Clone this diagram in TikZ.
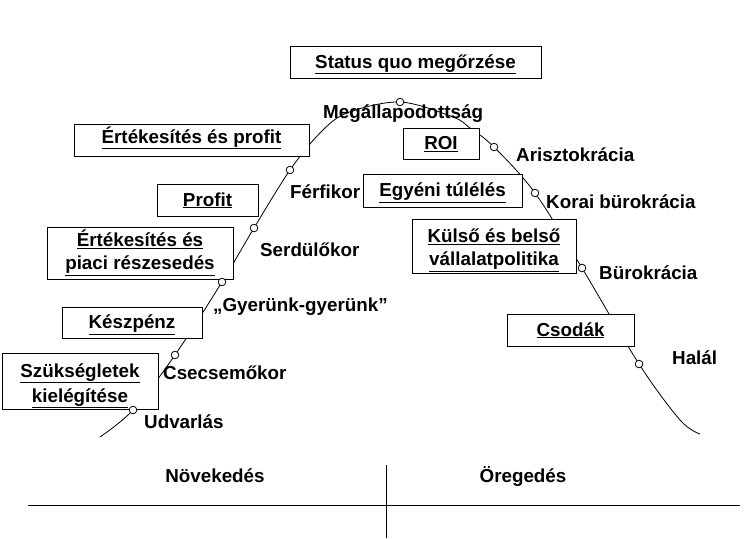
\documentclass[tikz,border=0pt]{standalone}
\usepackage{fontspec}
\setmainfont{Liberation Sans}
\tikzset{box/.style={draw,line width=1pt,fill=white,align=center,inner sep=0pt,font=\fontsize{18.8}{23}\selectfont\bfseries}}
\tikzset{onebox/.style={box,text height=13pt,text depth=1pt}}
\tikzset{stage/.style={anchor=base west,inner sep=0pt,font=\fontsize{18.8}{23}\selectfont\bfseries}}
\tikzset{phase/.style={anchor=base,inner sep=0pt,font=\fontsize{18.8}{23}\selectfont\bfseries}}

\begin{document}
\begin{tikzpicture}[x=1pt,y=-1pt]
\useasboundingbox (0,0) rectangle (749,538);
\foreach \x/\y/\name in {100/437/s,133/410/a,175/355/b,222/282/c,254/228/d,290/170/e,400/102/f,494/147/g,535/193/h,582/268/i,639/364/j,700/434/z} {
  \coordinate (\name) at (\x,\y);
}
\draw[line width=.8pt] plot[smooth,tension=.55] coordinates {(s) (a) (b) (c) (d) (e) (320,133) (347,113) (f) (453,117) (470,128) (g) (h) (i) (j) (680,420) (z)};
% boxes
\node[onebox,minimum width=251,minimum height=32] (status) at (415.5,62) {\underline{Status quo megőrzése}};
\node[onebox,text depth=7pt,minimum width=235,minimum height=32] (ertprofit) at (191.5,140) {\underline{Értékesítés és profit}};
\node[onebox,minimum width=101,minimum height=32] (profit) at (207.5,200) {\underline{Profit}};
\node[box,minimum width=186,minimum height=52] (piaci) at (140,253) {\underline{Értékesítés és}\\\underline{piaci részesedés}};
\node[onebox,minimum width=140,minimum height=31] (keszpenz) at (132,322.5) {\underline{Készpénz}};
\node[box,minimum width=156,minimum height=56] (szukseglet) at (80,381) {\rule{0pt}{23pt}\underline{Szükségletek}\\[2pt]\underline{kielégítése}};
\node[onebox,minimum width=76,minimum height=31] (roi) at (441,143.5) {\underline{ROI}};
\node[onebox,minimum width=159,minimum height=33] (egyeni) at (442.5,190.5) {\underline{Egyéni túlélés}};
\node[box,minimum width=164,minimum height=54] (kulso) at (494,246) {\rule{0pt}{22pt}\underline{Külső és belső}\\\underline{vállalatpolitika}};
\node[onebox,minimum width=127,minimum height=32] (csodak) at (570.5,330) {\underline{Csodák}};
\foreach \name in {a,b,c,d,e,f,g,h,i,j}
  \draw[line width=.8pt,fill=white] (\name) circle (3.8);
% stages
\foreach \x/\y/\name/\txt in {323/118/megall/Megállapodottság,516/161/arisz/Arisztokrácia,546/208/korai/Korai bürokrácia,599/279/buro/Bürokrácia,672/364/halal/Halál,290/198/ferfi/Férfikor,260/256/serdul/Serdülőkor,213/311/gyerunk/„Gyerünk-gyerünk”,163/379/csecs/Csecsemőkor,144/428/udvar/Udvarlás} {
  \node[stage] (\name) at (\x,\y) {\txt};
}
\coordinate (l) at (28,505);
\coordinate (r) at (740,505);
\coordinate (t) at (386,465);
\coordinate (u) at (386,538);
\draw (l) -- (r);
\draw (t) -- (u);
\node[phase] (novek) at (215,482) {Növekedés};
\node[phase] (oreg) at (523,482) {Öregedés};
\end{tikzpicture}
\end{document}
